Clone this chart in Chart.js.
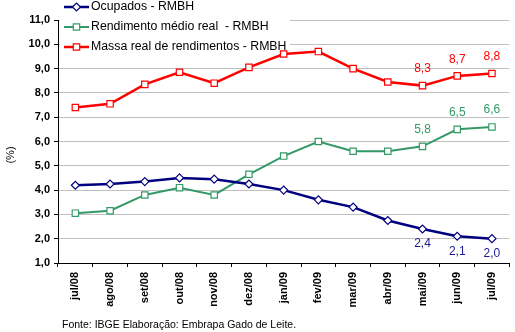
<!DOCTYPE html>
<html>
<head>
<meta charset="utf-8">
<script src="https://cdn.jsdelivr.net/npm/chart.js@4.4.1/dist/chart.umd.min.js"></script>
<style>
  body { margin: 0; background: #fff; }
  #wrap { width: 515px; height: 332px; }
</style>
</head>
<body>
<div id="wrap"><canvas id="grafico" width="515" height="332"></canvas></div>
<script>
const meses = ['jul/08', 'ago/08', 'set/08', 'out/08', 'nov/08', 'dez/08', 'jan/09',
  'fev/09', 'mar/09', 'abr/09', 'mai/09', 'jun/09', 'jul/09'];
const ocupados = [4.2, 4.25, 4.35, 4.5, 4.45, 4.25, 4.0, 3.6, 3.3, 2.75, 2.4, 2.1, 2.0];
const rendimento = [3.05, 3.15, 3.8, 4.1, 3.8, 4.65, 5.4, 6.0, 5.6, 5.6, 5.8, 6.5, 6.6];
const massa = [7.4, 7.55, 8.35, 8.85, 8.4, 9.05, 9.6, 9.7, 9.0, 8.45, 8.3, 8.7, 8.8];
const rotulados = [10, 11, 12]; // meses com valor escrito
const fonte = 'Fonte: IBGE Elaboração: Embrapa Gado de Leite.';

const FAMILIA = "'Liberation Sans', Arial, sans-serif";
const virgula = v => v.toFixed(1).replace('.', ',');

// legenda, rotulos e fonte desenhados a mao
const extras = {
  id: 'extras',
  beforeDatasetsDraw(chart) {
    const ctx = chart.ctx;
    ctx.save();
    ctx.fillStyle = '#fff';
    ctx.fillRect(60, 0, 230, 56);
    ctx.restore();
  },
  afterDatasetsDraw(chart) {
    const ctx = chart.ctx;
    ctx.save();
    ctx.font = '12px ' + FAMILIA;
    ctx.textAlign = 'center';
    ctx.textBaseline = 'middle';
    chart.data.datasets.forEach((ds, i) => {
      const meta = chart.getDatasetMeta(i);
      rotulados.forEach(j => {
        const p = meta.data[j];
        ctx.fillStyle = ds.corRotulo;
        ctx.fillText(virgula(ds.data[j]), p.x, p.y + ds.deslocRotulo);
      });
    });
    ctx.restore();
  },
  afterDraw(chart) {
    const ctx = chart.ctx;
    ctx.save();
    ctx.textBaseline = 'middle';
    chart.data.datasets.forEach((ds, i) => {
      const y = 7 + 20 * i;
      ctx.strokeStyle = ds.borderColor;
      ctx.lineWidth = ds.borderWidth;
      ctx.beginPath();
      ctx.moveTo(64, y);
      ctx.lineTo(89, y);
      ctx.stroke();
      ctx.fillStyle = '#fff';
      ctx.lineWidth = ds.pointBorderWidth;
      Chart.helpers.drawPoint(ctx, {
        pointStyle: ds.pointStyle, radius: ds.pointRadius, rotation: 0, borderWidth: ds.pointBorderWidth
      }, 76.5, y);
      ctx.fillStyle = '#000';
      ctx.font = '12.3px ' + FAMILIA;
      ctx.textAlign = 'left';
      ctx.fillText(ds.label, 91, y);
    });

    ctx.font = '10.5px ' + FAMILIA;
    ctx.fillStyle = '#000';
    ctx.textAlign = 'left';
    ctx.fillText(fonte, 62, 325);

    ctx.font = '11px ' + FAMILIA;
    ctx.translate(11, 155);
    ctx.rotate(-Math.PI / 2);
    ctx.textAlign = 'center';
    ctx.fillText('(%)', 0, 0);
    ctx.restore();
  }
};

new Chart(document.getElementById('grafico'), {
  type: 'line',
  data: {
    labels: meses,
    datasets: [
      {
        label: 'Ocupados - RMBH',
        data: ocupados,
        borderColor: '#000080',
        borderWidth: 2.5,
        pointStyle: 'rectRot',
        pointRadius: 4,
        pointBorderWidth: 1.2,
        pointBackgroundColor: '#fff',
        corRotulo: '#1a1a8c',
        deslocRotulo: 15,
      },
      {
        label: 'Rendimento médio real  - RMBH',
        data: rendimento,
        borderColor: '#339966',
        borderWidth: 2,
        pointStyle: 'rect',
        pointRadius: 4.5,
        pointBorderWidth: 1.2,
        pointBackgroundColor: '#fff',
        corRotulo: '#339966',
        deslocRotulo: -17,
      },
      {
        label: 'Massa real de rendimentos - RMBH',
        data: massa,
        borderColor: '#ff0000',
        borderWidth: 2.5,
        pointStyle: 'rect',
        pointRadius: 4.5,
        pointBorderWidth: 1.2,
        pointBackgroundColor: '#fff',
        corRotulo: '#ff0000',
        deslocRotulo: -16.5,
      },
    ],
  },
  options: {
    responsive: false,
    animation: false,
    devicePixelRatio: 1,
    layout: { padding: { left: 0, right: 2, top: 20, bottom: 0 } },
    plugins: {
      legend: { display: false },
      tooltip: { enabled: false },
    },
    elements: { line: { tension: 0 } },
    scales: {
      x: {
        offset: true,
        afterFit: s => { s.height = 69; },
        grid: {
          offset: true,
          drawOnChartArea: false,
          tickLength: 4,
          tickColor: '#000',
        },
        border: { color: '#000', width: 1 },
        ticks: {
          minRotation: 90,
          maxRotation: 90,
          padding: 5,
          color: '#000',
          font: { family: FAMILIA, size: 11, weight: 'bold' },
        },
      },
      y: {
        min: 1,
        max: 11,
        afterFit: s => { s.width = 58; },
        grid: {
          color: '#c0c0c0',
          tickLength: 4,
          tickColor: '#000',
        },
        border: { color: '#000', width: 1 },
        ticks: {
          stepSize: 1,
          padding: 4,
          color: '#000',
          font: { family: FAMILIA, size: 11, weight: 'bold' },
          callback: v => virgula(v),
        },
      },
    },
  },
  plugins: [extras],
});
</script>
</body>
</html>
